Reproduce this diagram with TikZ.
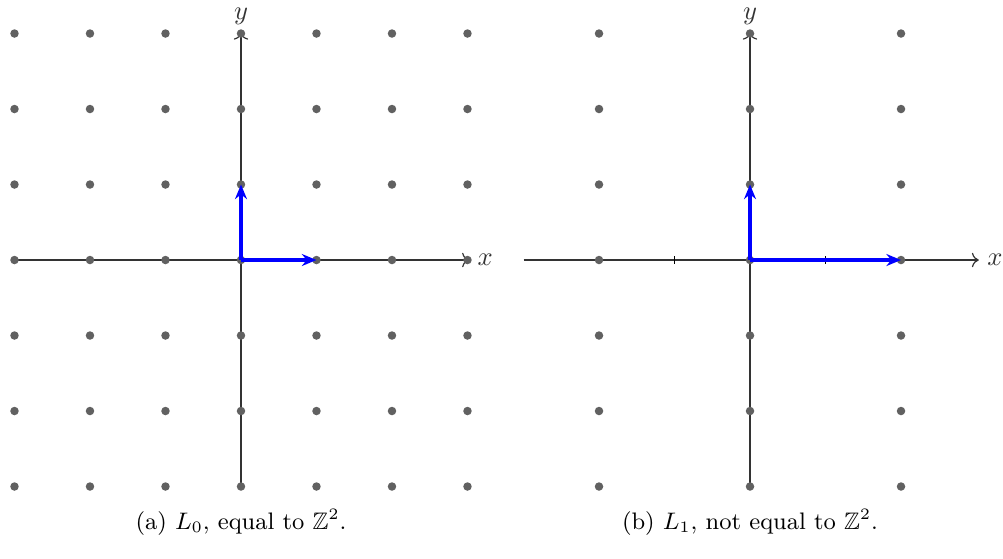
\documentclass[tikz,border=0pt]{standalone}
\usepackage{amssymb}
\usetikzlibrary{arrows.meta}
\tikzset{
  lat/.style={circle,fill=black!62,inner sep=0pt,minimum size=3.2pt},
  axis/.style={->,black!80,line width=0.45pt},
  tickmark/.style={black,line width=0.5pt},
  basis/.style={-{Stealth[length=5.5pt,width=4.5pt]},blue,line width=1.2pt},
  captext/.style={font=\small}
}
\begin{document}
\begin{tikzpicture}
\useasboundingbox (-3.192,-3.947) rectangle (10.093,3.444);
% ---------- panel (a) ----------
\coordinate (axL) at (-3,0);
\coordinate (axR) at (3.02,0);
\coordinate (ayB) at (0,-3);
\coordinate (ayT) at (0,3.01);
\draw[axis] (axL) -- (axR) node[right,inner sep=3pt] (xa) {$x$};
\draw[axis] (ayB) -- (ayT) node[above,inner sep=3pt] (ya) {$y$};
\foreach \i in {-3,...,3} {
  \draw[tickmark] (\i,-0.05) -- (\i,0.05);
  \draw[tickmark] (-0.05,\i) -- (0.05,\i);
}
\foreach \i in {-3,...,3} \foreach \j in {-3,...,3}
  \node[lat] (a\i\j) at (\i,\j) {};
\draw[basis] (a00.center) -- (a10.center);
\draw[basis] (a00.center) -- (a01.center);
\node[captext] (capa) at (0,-3.48) {(a) $L_0$, equal to $\mathbb{Z}^2$.};
% ---------- panel (b) ----------
\begin{scope}[xshift=6.742cm]
\coordinate (bxL) at (-3,0);
\coordinate (bxR) at (3.03,0);
\coordinate (byB) at (0,-3);
\coordinate (byT) at (0,3.01);
\draw[axis] (bxL) -- (bxR) node[right,inner sep=3pt] (xb) {$x$};
\draw[axis] (byB) -- (byT) node[above,inner sep=3pt] (yb) {$y$};
\foreach \i in {-2,...,2} \draw[tickmark] (\i,-0.05) -- (\i,0.05);
\foreach \i in {-3,...,3} \draw[tickmark] (-0.05,\i) -- (0.05,\i);
\foreach \i in {-2,0,2} \foreach \j in {-3,...,3}
  \node[lat] (b\i\j) at (\i,\j) {};
\draw[basis] (b00.center) -- (b20.center);
\draw[basis] (b00.center) -- (b01.center);
\node[captext] (capb) at (0,-3.48) {(b) $L_1$, not equal to $\mathbb{Z}^2$.};
\end{scope}
\end{tikzpicture}
\end{document}
